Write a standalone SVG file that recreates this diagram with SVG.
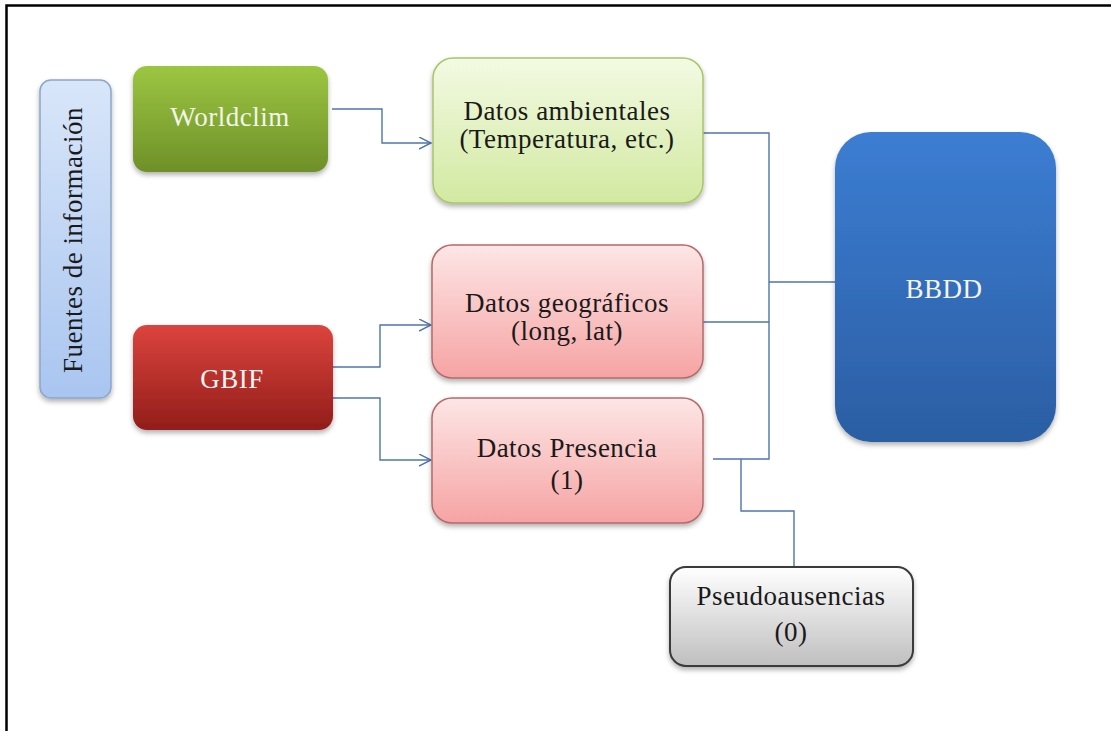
<svg xmlns="http://www.w3.org/2000/svg" width="1111" height="731" viewBox="0 0 1111 731">
<style>
text{font-family:"Liberation Serif","Times New Roman",serif;font-size:27px;text-anchor:middle;fill:#1a1a1a;letter-spacing:0.5px}
.light{fill:#f2f6ea}
.white{fill:#f4f4f4}
.conn{fill:none;stroke:#4f75ad;stroke-width:1.4}
</style>
<defs>
<linearGradient id="gBlue" x1="0" y1="0" x2="0" y2="1"><stop offset="0" stop-color="#d8e6f9"/><stop offset="1" stop-color="#a9c5f0"/></linearGradient>
<linearGradient id="gGreen" x1="0" y1="0" x2="0" y2="1"><stop offset="0" stop-color="#9cc641"/><stop offset="1" stop-color="#6f9029"/></linearGradient>
<linearGradient id="gRed" x1="0" y1="0" x2="0" y2="1"><stop offset="0" stop-color="#dc443d"/><stop offset="1" stop-color="#921d1a"/></linearGradient>
<linearGradient id="gLGreen" x1="0" y1="0" x2="0" y2="1"><stop offset="0" stop-color="#f3fae3"/><stop offset="1" stop-color="#d2e9a1"/></linearGradient>
<linearGradient id="gPink" x1="0" y1="0" x2="0" y2="1"><stop offset="0" stop-color="#fde6e6"/><stop offset="1" stop-color="#f6a3a3"/></linearGradient>
<linearGradient id="gBBDD" x1="0" y1="0" x2="0" y2="1"><stop offset="0" stop-color="#3c7dd3"/><stop offset="1" stop-color="#2b5ea3"/></linearGradient>
<linearGradient id="gGray" x1="0" y1="0" x2="0" y2="1"><stop offset="0" stop-color="#ffffff"/><stop offset="1" stop-color="#bfbfbf"/></linearGradient>
<filter id="sh" x="-10%" y="-10%" width="120%" height="125%"><feDropShadow dx="0" dy="3" stdDeviation="2.5" flood-color="#000" flood-opacity="0.3"/></filter>
<marker id="arr" markerUnits="userSpaceOnUse" markerWidth="14" markerHeight="14" refX="12" refY="6" orient="auto"><path d="M0,0 L12,6 L0,12" fill="none" stroke="#4f75ad" stroke-width="1.4"/></marker>
</defs>
<rect x="6.5" y="5.5" width="1120" height="740" fill="#ffffff" stroke="#000" stroke-width="2.5"/>
<g id="connectors">
<polyline class="conn" points="332,109 382,109 382,143 431,143" marker-end="url(#arr)"/>
<polyline class="conn" points="333,367 380,367 380,325 431,325" marker-end="url(#arr)"/>
<polyline class="conn" points="333,398 380,398 380,460 431,460" marker-end="url(#arr)"/>
<polyline class="conn" points="703,133 769,133 769,459 713,459"/>
<line class="conn" x1="703" y1="322" x2="769" y2="322"/>
<line class="conn" x1="769" y1="282" x2="835" y2="282"/>
<polyline class="conn" points="741,459 741,511 794,511 794,566"/>
</g>
<g id="fuentes">
<rect x="40" y="80" width="71" height="318" rx="11" fill="url(#gBlue)" stroke="#8ea5c8" stroke-width="1.5" filter="url(#sh)"/>
<text transform="translate(82,240) rotate(-90)">Fuentes de información</text>
</g>
<g id="worldclim">
<rect x="133" y="66" width="195" height="106" rx="14" fill="url(#gGreen)" filter="url(#sh)"/>
<text x="230" y="126" class="light">Worldclim</text>
</g>
<g id="gbif">
<rect x="133" y="325" width="200" height="105" rx="14" fill="url(#gRed)" filter="url(#sh)"/>
<text x="232" y="388" class="white">GBIF</text>
</g>
<g id="ambientales">
<rect x="433" y="58" width="270" height="145" rx="20" fill="url(#gLGreen)" stroke="#a9c46c" stroke-width="1.5" filter="url(#sh)"/>
<text x="567" y="120">Datos ambientales</text>
<text x="567" y="148">(Temperatura, etc.)</text>
</g>
<g id="geograficos">
<rect x="432" y="245" width="271" height="133" rx="20" fill="url(#gPink)" stroke="#b46a6a" stroke-width="1.5" filter="url(#sh)"/>
<text x="567" y="312">Datos geográficos</text>
<text x="567" y="340">(long, lat)</text>
</g>
<g id="presencia">
<rect x="432" y="398" width="271" height="125" rx="20" fill="url(#gPink)" stroke="#b46a6a" stroke-width="1.5" filter="url(#sh)"/>
<text x="567" y="457">Datos Presencia</text>
<text x="567" y="489">(1)</text>
</g>
<g id="bbdd">
<rect x="835" y="132" width="221" height="310" rx="36" fill="url(#gBBDD)" filter="url(#sh)"/>
<text x="944" y="298" class="white">BBDD</text>
</g>
<g id="pseudo">
<rect x="670" y="567" width="243" height="99" rx="16" fill="url(#gGray)" stroke="#3a3a3a" stroke-width="2" filter="url(#sh)"/>
<text x="791" y="605">Pseudoausencias</text>
<text x="791" y="641">(0)</text>
</g>
</svg>
